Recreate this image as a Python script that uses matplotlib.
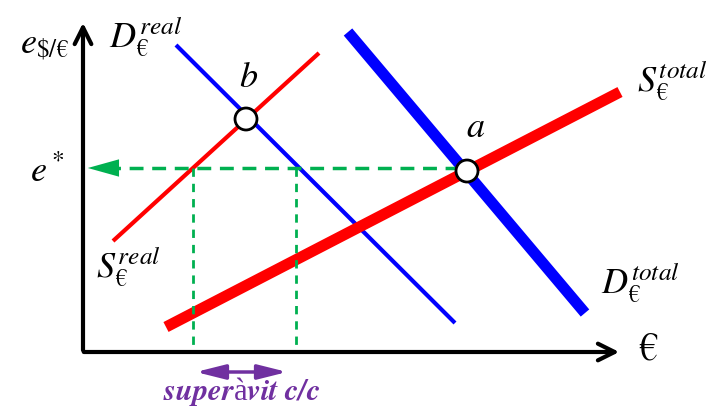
import matplotlib.pyplot as plt
from matplotlib.patches import Circle

plt.rcParams['mathtext.fontset'] = 'stix'

# line endpoints (pixel-like coordinates, y grows downward)
d_real = [(176, 45), (455, 323)]
s_real = [(113, 241), (319, 53)]
d_total = [(348, 32), (585, 313)]
s_total = [(166, 327), (620, 92)]
pt_b = (246, 119)
pt_a = (467, 171)
e_star = 168
q_left = 193
q_right = 296

fig = plt.figure(figsize=(7.23, 4.08), dpi=100)
ax = fig.add_axes([0, 0, 1, 1])
ax.set_xlim(0, 723)
ax.set_ylim(408, 0)
ax.axis('off')

# axes
ax.annotate('', xy=(83, 20), xytext=(83, 353),
            arrowprops=dict(arrowstyle='->', lw=3, color='black', mutation_scale=30))
ax.annotate('', xy=(622, 352), xytext=(81, 352),
            arrowprops=dict(arrowstyle='->', lw=3, color='black', mutation_scale=30))

# curves
ax.plot(*zip(*d_real), color='#0000ff', lw=3, solid_capstyle='butt')
ax.plot(*zip(*s_real), color='#ff0000', lw=3, solid_capstyle='butt')
ax.plot(*zip(*d_total), color='#0000ff', lw=8, solid_capstyle='butt')
ax.plot(*zip(*s_total), color='#ff0000', lw=8, solid_capstyle='butt')

# green dashed guides
green = '#00b050'
ax.plot([pt_a[0] - 8, 106], [e_star, e_star], color=green, lw=2.5, ls=(0, (4, 2.5)))
ax.annotate('', xy=(85, e_star), xytext=(108, e_star),
            arrowprops=dict(arrowstyle='-|>,head_length=0.9,head_width=0.25',
                            lw=0, color=green, mutation_scale=25))
ax.plot([q_left, q_left], [e_star, 346], color=green, lw=2, ls=(0, (3, 2.5)))
ax.plot([q_right, q_right], [e_star, 346], color=green, lw=2, ls=(0, (3, 2.5)))

# equilibrium points
for p in (pt_b, pt_a):
    ax.add_patch(Circle(p, 11, facecolor='white', edgecolor='black', lw=2, zorder=5))

# surplus arrow
purple = '#7030a0'
ax.annotate('', xy=(290, 372), xytext=(193, 372),
            arrowprops=dict(arrowstyle='<|-|>,head_length=0.8,head_width=0.2',
                            lw=2.5, color=purple, mutation_scale=22))
ax.text(242, 391, r'$\mathbfit{super}$' + 'à' + r'$\mathbfit{vit\ c/c}$',
        color=purple, fontsize=22, ha='center', va='center',
        family='Liberation Serif')

# labels
fs = 26
ax.text(45, 46, r'$e_{\mathsf{\$/€}}$', fontsize=fs, ha='center', va='center')
ax.text(47, 172, r'$e^*$', fontsize=fs, ha='center', va='center')
ax.text(146, 36, r'$D_{€}^{real}$', fontsize=fs, ha='center', va='center')
ax.text(249, 77, r'$b$', fontsize=fs, ha='center', va='center')
ax.text(476, 127, r'$a$', fontsize=fs, ha='center', va='center')
ax.text(672, 80, r'$S_{€}^{total}$', fontsize=fs, ha='center', va='center')
ax.text(128, 266, r'$S_{€}^{real}$', fontsize=fs, ha='center', va='center')
ax.text(640, 282, r'$D_{€}^{total}$', fontsize=fs, ha='center', va='center')
ax.text(648, 347, r'$€$', fontsize=30, ha='center', va='center')

fig.savefig('out.png', dpi=100)
